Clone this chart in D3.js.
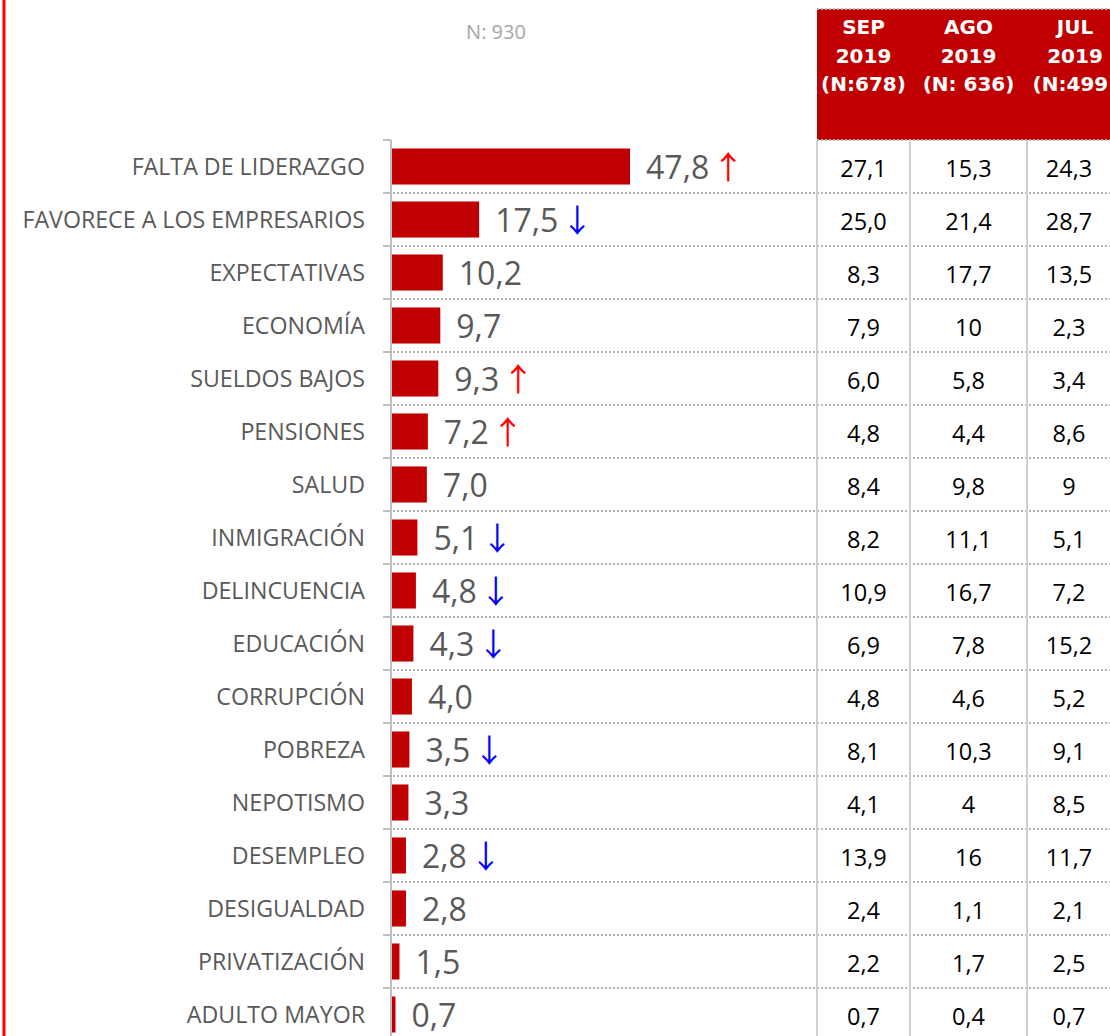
<!DOCTYPE html>
<html>
<head>
<meta charset="utf-8">
<script src="https://cdn.jsdelivr.net/npm/d3@7"></script>
<style>
  html, body { margin: 0; padding: 0; background: #fff; }
  svg { display: block; }
</style>
</head>
<body>
<script>
// Problem categories and their current share (%)
const categories = [
  "FALTA DE LIDERAZGO", "FAVORECE A LOS EMPRESARIOS", "EXPECTATIVAS", "ECONOMÍA",
  "SUELDOS BAJOS", "PENSIONES", "SALUD", "INMIGRACIÓN", "DELINCUENCIA", "EDUCACIÓN",
  "CORRUPCIÓN", "POBREZA", "NEPOTISMO", "DESEMPLEO", "DESIGUALDAD", "PRIVATIZACIÓN",
  "ADULTO MAYOR"
];
const currentValues = [47.8, 17.5, 10.2, 9.7, 9.3, 7.2, 7.0, 5.1, 4.8, 4.3, 4.0, 3.5, 3.3, 2.8, 2.8, 1.5, 0.7];
const valueLabels = ["47,8", "17,5", "10,2", "9,7", "9,3", "7,2", "7,0", "5,1", "4,8", "4,3", "4,0", "3,5", "3,3", "2,8", "2,8", "1,5", "0,7"];
// Trend marker next to each value: "up", "down" or ""
const trends = ["up", "down", "", "", "up", "up", "", "down", "down", "down", "", "down", "", "down", "", "", ""];
const sampleLabel = "N: 930";

// Previous waves shown in the side table
const waveHeaders = [
  ["SEP", "2019", "(N:678)"],
  ["AGO", "2019", "(N: 636)"],
  ["JUL", "2019", "(N:499)"]
];
const sepValues = ["27,1", "25,0", "8,3", "7,9", "6,0", "4,8", "8,4", "8,2", "10,9", "6,9", "4,8", "8,1", "4,1", "13,9", "2,4", "2,2", "0,7"];
const agoValues = ["15,3", "21,4", "17,7", "10", "5,8", "4,4", "9,8", "11,1", "16,7", "7,8", "4,6", "10,3", "4", "16", "1,1", "1,7", "0,4"];
const julValues = ["24,3", "28,7", "13,5", "2,3", "3,4", "8,6", "9", "5,1", "7,2", "15,2", "5,2", "9,1", "8,5", "11,7", "2,1", "2,5", "0,7"];

const W = 1110, H = 1036;
const RED = "#c00000";
const GREY_TEXT = "#595959";
const BODY_FONT = "'Open Sans', Lato, sans-serif";

const rows = categories.map((name, i) => ({
  name,
  value: currentValues[i],
  label: valueLabels[i],
  trend: trends[i]
}));

const svg = d3.select("body").append("svg")
  .attr("width", W).attr("height", H)
  .style("font-family", BODY_FONT);

// frame line on the left edge
svg.append("line")
  .attr("x1", 4).attr("x2", 4).attr("y1", 0).attr("y2", H)
  .attr("stroke", "#ff0000").attr("stroke-width", 3);

const axisX = 391;
const rowTop = 140;
const step = 53;

const y = d3.scaleBand()
  .domain(categories)
  .range([rowTop, rowTop + step * categories.length])
  .paddingInner(0.32)
  .paddingOuter(0.16);

const x = d3.scaleLinear().domain([0, 50]).range([axisX, axisX + 249]);

// table column geometry
const colEdges = [817, 910, 1027];
const colCenters = [863.5, 968.5, 1069];

// dotted row separators through chart and table
const boundaries = categories.map((c, i) => rowTop + step * (i + 1));
svg.append("g").selectAll("line")
  .data(boundaries.slice(0, -1))
  .join("line")
  .attr("x1", axisX + 2).attr("x2", W)
  .attr("y1", d => d).attr("y2", d => d)
  .attr("stroke", "#b4b4b4").attr("stroke-width", 2)
  .attr("stroke-dasharray", "2,2");

// table header block
svg.append("rect")
  .attr("x", colEdges[0]).attr("y", 9)
  .attr("width", W - colEdges[0]).attr("height", rowTop - 9)
  .attr("fill", RED);
[9, rowTop].forEach(yy => {
  svg.append("line")
    .attr("x1", colEdges[0]).attr("x2", W)
    .attr("y1", yy).attr("y2", yy)
    .attr("stroke", "#b4b4b4").attr("stroke-width", 2)
    .attr("stroke-dasharray", "2,2");
});

waveHeaders.forEach((lines, ci) => {
  const t = svg.append("text")
    .attr("text-anchor", "middle")
    .attr("fill", "#fff")
    .attr("font-weight", "bold")
    .attr("font-size", 20)
    .style("font-family", "'DejaVu Sans', sans-serif");
  const baselines = [34, 63, 91];
  lines.forEach((ln, li) => {
    t.append("tspan")
      .attr("x", colCenters[ci] + (ci === 2 ? 6 : 0))
      .attr("y", baselines[li])
      .text(ln);
  });
});

// table vertical separators
svg.append("g").selectAll("line")
  .data(colEdges)
  .join("line")
  .attr("x1", d => d).attr("x2", d => d)
  .attr("y1", rowTop).attr("y2", H)
  .attr("stroke", "#d0d0d0").attr("stroke-width", 2);

// table cells
[sepValues, agoValues, julValues].forEach((vals, ci) => {
  svg.append("g").selectAll("text")
    .data(vals)
    .join("text")
    .attr("x", colCenters[ci])
    .attr("y", (d, i) => y(categories[i]) + y.bandwidth() / 2 + 2)
    .attr("dy", "0.36em")
    .attr("text-anchor", "middle")
    .attr("font-size", 23.5)
    .attr("fill", "#000")
    .text(d => d);
});

// sample size
svg.append("text")
  .attr("x", 496).attr("y", 32)
  .attr("dy", "0.36em")
  .attr("text-anchor", "middle")
  .attr("font-size", 20)
  .attr("fill", "#a6a6a6")
  .text(sampleLabel);

// category axis
const axis = d3.axisLeft(y).tickSize(0).tickPadding(26);
const gAxis = svg.append("g")
  .attr("transform", `translate(${axisX},1)`)
  .call(axis);
gAxis.select(".domain").remove();
gAxis.selectAll("text")
  .attr("font-size", 23.2)
  .attr("fill", GREY_TEXT)
  .style("font-family", BODY_FONT);
svg.append("line")
  .attr("x1", axisX).attr("x2", axisX)
  .attr("y1", rowTop).attr("y2", H)
  .attr("stroke", "#bfbfbf").attr("stroke-width", 2);
svg.append("g").selectAll("line")
  .data([rowTop].concat(boundaries))
  .join("line")
  .attr("x1", axisX - 8).attr("x2", axisX)
  .attr("y1", d => d).attr("y2", d => d)
  .attr("stroke", "#bfbfbf").attr("stroke-width", 2);

// bars
svg.append("g").selectAll("rect")
  .data(rows)
  .join("rect")
  .attr("x", x(0) + 1)
  .attr("y", d => y(d.name))
  .attr("width", d => x(d.value) - x(0))
  .attr("height", y.bandwidth())
  .attr("fill", RED);

// value labels with trend arrows
const labels = svg.append("g").selectAll("text")
  .data(rows)
  .join("text")
  .attr("x", d => x(d.value) + 17)
  .attr("y", d => y(d.name) + y.bandwidth() / 2 + 1)
  .attr("dy", "0.36em")
  .attr("font-size", 32)
  .attr("fill", GREY_TEXT);
labels.append("tspan").text(d => d.label);
labels.filter(d => d.trend !== "")
  .append("tspan")
  .attr("dx", 3)
  .attr("font-size", 32)
  .style("font-family", "'Noto Sans CJK JP', 'DejaVu Sans', sans-serif")
  .attr("fill", d => d.trend === "up" ? "#ff0000" : "#0000ff")
  .text(d => d.trend === "up" ? "↑" : "↓");
</script>
</body>
</html>
